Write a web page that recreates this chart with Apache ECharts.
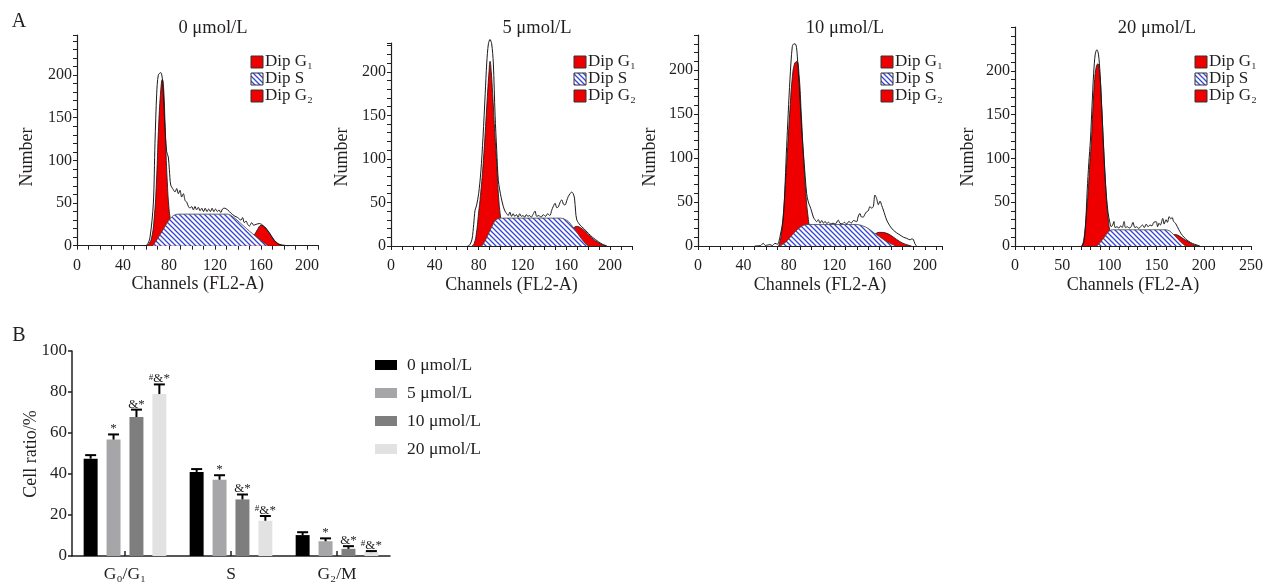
<!DOCTYPE html>
<html><head><meta charset="utf-8">
<script src="https://cdn.jsdelivr.net/npm/echarts@6/dist/echarts.min.js"></script>
<style>html,body{margin:0;padding:0;background:#fff}#c{width:1266px;height:583px}</style>
</head><body><div id="c"></div>
<script>
// ---------- Panel A data (channel, count) ----------
const panelTitles = ['0 μmol/L', '5 μmol/L', '10 μmol/L', '20 μmol/L'];
const legendNames = ['Dip G₁', 'Dip S', 'Dip G₂'];
const xTicksA = [0, 40, 80, 120, 160, 200];
const xTicksD = [0, 50, 100, 150, 200, 250];
const yTicksA = [0, 50, 100, 150, 200];

const p1Total = [[58,0],[61,1],[63.5,10],[66.4,50],[67.8,120],[69.3,178],[70.7,200],[72.8,203],[74.2,196],[75,178],[76.5,139],[78,110],[79.4,104],[80.3,89],[81.5,71],[83.2,67],[85.2,63],[86.7,67],[88.1,61],[89.6,65],[91,57],[92.5,61],[94,53],[95.4,51],[96.9,46],[98.3,44],[99.7,46],[101.2,42],[102.6,46],[104,42],[105.5,45],[107,41],[108.5,44],[110,40],[111.5,44],[113,40],[114.5,43],[116,40],[117.5,44],[119,40],[120.5,43],[122,40],[123.5,42],[125,39],[126.5,43],[128,44],[131,42],[134,38],[136.8,35],[139.7,33],[142.6,30],[144,33],[145.5,27],[147,29],[148.4,25],[149.9,23],[151.9,27],[153.6,24],[155.7,25],[158.6,26],[160.5,25],[163,22],[167.2,15.5],[171.6,6],[175,2],[180,0.5],[184,0]];
const p1G1 = [[61,0],[63,3],[65,10],[67,30],[69,72],[71,140],[73,185],[74.2,195],[75.3,185],[76.5,145],[77.5,105],[78.5,75],[79.5,52],[81,32],[83,15],[85,5],[88,0]];
const p1S = [[66,0],[70,8],[75,19],[80,30],[84,35.5],[88,37],[131,37],[135,34.5],[140,29],[145,23],[150,17],[155,11.5],[160,6],[164,2],[166,0]];
const p1G2 = [[145,0],[148,2],[151,6],[154,12],[157,19],[160,24],[162,23],[164,21],[167,15],[170,9],[173,4.5],[176,1.5],[179,0]];

const p2Total = [[70,0],[72,1.5],[74,8],[75.5,25],[76.7,41],[78,46],[80,60],[82,85],[84,125],[86,175],[87.4,210],[88.9,232],[90.4,237],[91.9,232],[93.4,210],[95,150],[96.5,110],[98,75],[100.5,56],[102.6,45],[104.1,40],[105.7,37],[107,35],[108.5,39],[110,34],[111.5,37],[113,34],[114.5,36],[116,33],[117.5,37],[119,34],[120.5,35],[122,33],[123.5,36],[125,34],[126.5,35],[128,33],[129.5,36],[131.5,40],[133,34],[135,35],[137,33],[139,36],[141,34],[143,37],[145,35],[146.7,41],[148,45],[149.8,49],[151.3,44],[152.8,45],[154.3,50],[155.9,53],[157.4,48],[158.9,47],[160.4,52],[161.9,57],[163.5,60],[165,62],[166.3,60],[167.5,55],[168.5,40],[169.6,30],[172.6,24],[176,20],[180.2,14.5],[184,10],[189.3,5],[193,2],[197,0]];
const p2G1 = [[74,0],[76,3],[78,15],[80,38],[82,62],[84,92],[86,130],[88,172],[89.5,200],[90.4,212],[91.5,200],[93,170],[94.5,135],[96.5,95],[98,60],[100,33],[102,16],[104,6],[106,1],[108,0]];
const p2S = [[83,0],[86,6],[89,14],[92,22],[95,29],[98,31.5],[101,32],[155,32],[158,31],[162,28],[166,22],[170,15],[174,8],[177,3.5],[180,0]];
const p2G2 = [[150,1],[155,4],[160,10],[164,17],[168,22],[170,22.5],[173,21],[177,17],[181,12],[185,7.5],[189,4],[193,1.5],[197,0]];

const p3Total = [[50,0],[55,0.5],[57.5,3],[59.5,0.5],[61,1],[63.4,1.5],[65.5,0.5],[67.8,3],[70,2],[72.2,10.6],[75.2,33],[78.1,113],[81,189],[83.1,227],[84.6,230],[86.3,229],[87.5,216],[89.5,175],[91.4,132],[93.5,95],[95.7,60],[97.2,50],[98.7,45],[100,40],[101.6,33],[103,30],[104.6,27.7],[106,30],[107.5,26],[109,29],[110.5,26],[112,28],[113.5,25.5],[115,27],[117,25],[119,26],[121,25],[123.6,29.5],[125,26],[127,25],[129,27],[131,25],[133,28],[135,26],[137,29],[139.8,27.7],[141,33],[142.7,37],[144,33],[145.7,33],[147,36],[148.6,39],[150,40],[151.5,44.8],[153,43],[154.5,45],[155.9,58],[157.4,54],[158.9,47],[160.4,51],[161.9,46],[163.3,41],[164.8,35],[166.2,29.6],[169,23],[172.1,18],[175,15],[178,12.5],[181,10],[183.9,8.7],[186.8,7],[188.3,8],[189.7,7.5],[191,3],[192.5,0]];
const p3G1 = [[71,0],[73,10],[75,33],[77,70],[79,112],[81,155],[83,190],[85,207],[87,210],[89,195],[91,150],[93,100],[95,60],[97,33],[99,16],[101,7],[104,1.5],[107,0]];
const p3S = [[72,0],[76,3],[80,8],[84,14],[88,19],[92,23],[96,24.5],[140,24.5],[145,23],[150,20],[155,15],[160,10.5],[165,6],[170,2.5],[174,0]];
const p3G2 = [[140,2],[145,5],[150,9],[155,13],[160,15.5],[165,15],[170,12],[175,7.5],[180,3.5],[185,1],[188,0]];

const p4Total = [[70,0],[71.4,0.5],[73,5],[74.8,25],[76.5,64],[78.2,95],[79.9,121],[81.6,160],[83.3,197],[85,219],[86.7,224],[88.4,219],[90.1,197],[91.8,160],[93.5,121],[95.2,85],[96.9,56],[98.6,38],[100.3,27.7],[102,22],[103.5,24],[104.8,28],[106,21],[108,22],[110,20.5],[112,23],[113.5,21],[115.6,28],[117,21],[119,22],[121,20.5],[123,22],[125,27],[127,21],[129,22],[131,20],[133,22],[135,24],[137,21],[139,25],[141,22],[143,24],[145,23],[147,27],[149.7,27.7],[151,22],[152.5,26],[154,24],[156.5,31.5],[158,25],[160,30],[161.5,27],[163.3,33.5],[165,31],[166.5,32.5],[168,28],[170,26],[173.5,18.7],[176,14],[179,10],[182,7],[186,4],[190,2],[193,1],[196,0]];
const p4G1 = [[71,0],[73,8],[75.5,35],[77.6,64],[79.3,95],[81,121],[82.7,160],[84.4,190],[86,204],[87.8,208],[89.5,200],[91.8,159],[93.5,120],[95.2,83],[97,52],[98.5,33],[100.3,18],[102.5,8],[105,2],[108,0]];
const p4S = [[87,0],[91,5],[95,10.5],[98,15],[101,18],[104,18.5],[160,18.5],[164,17],[168,13],[172,8.5],[176,4],[181,0]];
const p4G2 = [[150,1],[155,3],[160,6.5],[165,10.5],[169,13],[172,12.5],[176,10],[180,7],[184,4.5],[188,2],[192,0.5],[194,0]];

// ---------- Panel B data ----------
const categories = ['G₀/G₁', 'S', 'G₂/M'];
const groups = ['0 μmol/L', '5 μmol/L', '10 μmol/L', '20 μmol/L'];
const ratio0 = [47.5, 41.0, 10.2];
const ratio5 = [56.8, 37.2, 7.2];
const ratio10 = [67.8, 27.6, 3.5];
const ratio20 = [79.0, 17.2, 1.9];
const err0 = [1.7, 1.4, 1.4];
const err5 = [2.5, 2.2, 1.4];
const err10 = [3.6, 2.4, 1.3];
const err20 = [4.7, 2.3, 0.5];
const sig0 = ['', '', ''];
const sig5 = ['*', '*', '*'];
const sig10 = ['&*', '&*', '&*'];
const sig20 = ['#&*', '#&*', '#&*'];
const yTicksB = [0, 20, 40, 60, 80, 100];

// ---------- styling ----------
const FONT = '"Liberation Serif","DejaVu Serif",serif';
const INK = '#231f20';
const RED = '#ee0000';
const barColors = ['#000000', '#a6a6a9', '#7e7e7e', '#e2e2e2'];

function hatch() {
  const c = document.createElement('canvas');
  c.width = 5; c.height = 5;
  const g = c.getContext('2d');
  g.fillStyle = '#ffffff'; g.fillRect(0, 0, 5, 5);
  g.strokeStyle = '#3446d6'; g.lineWidth = 1.3;
  g.beginPath();
  for (const k of [-5, 0, 5]) { g.moveTo(k - 1, -1); g.lineTo(k + 6, 6); }
  g.stroke();
  return c;
}
const HATCH = { image: hatch(), repeat: 'repeat' };

const panels = [
  { total: p1Total, g1: p1G1, s: p1S, g2: p1G2, xMax: 210, yMax: 247, xt: xTicksA,
    grid: { left: 77, top: 35, width: 241.5, height: 210.7 }, titleX: 213, nameX: 27, legX: 251 },
  { total: p2Total, g1: p2G1, s: p2S, g2: p2G2, xMax: 220, yMax: 233, xt: xTicksA,
    grid: { left: 391, top: 43, width: 241, height: 203 }, titleX: 537, nameX: 342, legX: 574 },
  { total: p3Total, g1: p3G1, s: p3S, g2: p3G2, xMax: 215, yMax: 240, xt: xTicksA,
    grid: { left: 698, top: 35, width: 244, height: 211 }, titleX: 845, nameX: 650, legX: 881 },
  { total: p4Total, g1: p4G1, s: p4S, g2: p4G2, xMax: 250, yMax: 250, xt: xTicksD,
    grid: { left: 1015, top: 27, width: 245, height: 219 }, titleX: 1157, nameX: 968, legX: 1195 }
];

const grids = [], xAxes = [], yAxes = [], series = [], graphics = [];
const axisLine = { show: true, onZero: false, lineStyle: { color: INK, width: 1.2 } };
const tick = { show: true, length: 4, lineStyle: { color: INK, width: 1 } };

panels.forEach((p, i) => {
  grids.push(Object.assign({ containLabel: false }, p.grid));
  xAxes.push({
    type: 'value', gridIndex: i, min: 0, max: p.xMax, interval: 10,
    axisLine, axisTick: tick, splitLine: { show: false },
    axisLabel: { color: INK, fontFamily: FONT, fontSize: 16, margin: 12,
      showMaxLabel: true, formatter: v => p.xt.includes(v) ? String(v) : '' },
    name: 'Channels (FL2-A)', nameLocation: 'middle', nameGap: 30,
    nameTextStyle: { color: INK, fontFamily: FONT, fontSize: 18 }
  });
  yAxes.push({
    type: 'value', gridIndex: i, min: 0, max: p.yMax, interval: 10,
    axisLine, axisTick: tick, splitLine: { show: false },
    axisLabel: { color: INK, fontFamily: FONT, fontSize: 16, margin: 5,
      showMaxLabel: true, formatter: v => yTicksA.includes(v) ? String(v) : '' }
  });
  const common = { type: 'line', xAxisIndex: i, yAxisIndex: i, showSymbol: false, silent: true, animation: false };
  series.push(Object.assign({}, common, { name: 'Dip G₁', data: p.g1, smooth: 0.5, z: 2,
    lineStyle: { color: '#2a1a1a', width: 0.9 }, areaStyle: { color: RED, opacity: 1 } }));
  series.push(Object.assign({}, common, { name: 'Dip G₂', data: p.g2, smooth: 0.4, z: 3,
    lineStyle: { color: '#2a1a1a', width: 0.9 }, areaStyle: { color: RED, opacity: 1 } }));
  series.push(Object.assign({}, common, { name: 'Dip S', data: p.s, smooth: 0.3, z: 4,
    lineStyle: { color: '#444', width: 0.8 }, areaStyle: { color: HATCH, opacity: 1 } }));
  series.push(Object.assign({}, common, { name: 'Total', data: p.total, smooth: 0.3, z: 5, clip: false,
    lineStyle: { color: '#1a1a1a', width: 1 } }));

  graphics.push({ type: 'text', x: p.titleX, y: 28, style: { text: panelTitles[i], fill: INK,
    font: '18.5px ' + FONT, align: 'center', verticalAlign: 'middle' } });
  graphics.push({ type: 'text', x: p.nameX, y: 157, rotation: Math.PI / 2, style: { text: 'Number', fill: INK,
    font: '18px ' + FONT, align: 'center', verticalAlign: 'middle' } });
  const rows = [62, 79, 96];
  legendNames.forEach((nm, j) => {
    graphics.push({ type: 'rect', shape: { x: p.legX, y: rows[j] - 6, width: 12, height: 12 },
      style: { fill: j === 1 ? HATCH : RED, stroke: '#333', lineWidth: 1 } });
    graphics.push({ type: 'text', x: p.legX + 14, y: rows[j], style: { text: nm, fill: INK,
      font: '17px ' + FONT, align: 'left', verticalAlign: 'middle' } });
  });
});

// ---------- Panel B ----------
const bi = panels.length;
grids.push({ left: 72, top: 351, width: 318, height: 209, containLabel: false });
xAxes.push({ type: 'category', gridIndex: bi, data: categories,
  axisLine: { show: true, lineStyle: { color: INK, width: 1.5 } },
  axisTick: { show: true, alignWithLabel: true, inside: true, length: 5, lineStyle: { color: INK, width: 1.5 } },
  axisLabel: { color: INK, fontFamily: FONT, fontSize: 17.5, margin: 9 } });
yAxes.push({ type: 'value', gridIndex: bi, min: 0, max: 100, interval: 20,
  axisLine: { show: true, lineStyle: { color: INK, width: 1.5 } },
  axisTick: { show: true, length: 4, lineStyle: { color: INK, width: 1.5 } },
  splitLine: { show: false },
  axisLabel: { color: INK, fontFamily: FONT, fontSize: 17, margin: 5, formatter: v => yTicksB.includes(v) ? String(v) : '' } });
graphics.push({ type: 'text', x: 31.5, y: 454, rotation: Math.PI / 2, style: { text: 'Cell ratio/%', fill: INK,
  font: '18px ' + FONT, align: 'center', verticalAlign: 'middle' } });

const ratios = [ratio0, ratio5, ratio10, ratio20];
const errs = [err0, err5, err10, err20];
const sigs = [sig0, sig5, sig10, sig20];
const CAT_GAP = 0.22, BAR_GAP = 0.64;
ratios.forEach((r, k) => {
  series.push({ type: 'bar', name: groups[k], xAxisIndex: bi, yAxisIndex: bi, data: r,
    barCategoryGap: (CAT_GAP * 100) + '%', barGap: (BAR_GAP * 100) + '%',
    itemStyle: { color: barColors[k] }, animation: false, z: 2 });
});
const errData = [], errText = [];
ratios.forEach((r, k) => r.forEach((v, c) => { errData.push([c, v, errs[k][c], k]); errText.push(sigs[k][c]); }));
series.push({ type: 'custom', xAxisIndex: bi, yAxisIndex: bi, data: errData, z: 5, animation: false, silent: true,
  renderItem: (params, api) => {
    const c = api.value(0), v = api.value(1), e = api.value(2), k = api.value(3);
    const band = api.size([1, 0])[0];
    const n = ratios.length;
    const bw = band * (1 - CAT_GAP) / (n + (n - 1) * BAR_GAP);
    const total = n * bw + (n - 1) * BAR_GAP * bw;
    const x = api.coord([c, 0])[0] - total / 2 + bw / 2 + k * bw * (1 + BAR_GAP);
    const yB = api.coord([c, v])[1], yT = api.coord([c, v + e])[1];
    const txt = errText[params.dataIndex];
    const ch = [
      { type: 'line', shape: { x1: x, y1: yB, x2: x, y2: yT }, style: { stroke: '#000', lineWidth: 2 } },
      { type: 'line', shape: { x1: x - 5.5, y1: yT, x2: x + 5.5, y2: yT }, style: { stroke: '#000', lineWidth: 2 } }
    ];
    if (txt) {
      const rich = txt.startsWith('#') ? '{h|#}' + txt.slice(1) : txt;
      ch.push({ type: 'text', x: x, y: yT - 5.5, style: { text: rich, fill: INK, font: '13px ' + FONT,
        align: 'center', verticalAlign: 'middle', rich: { h: { fontSize: 9, fontFamily: FONT, fill: INK, padding: [0, 0, 3, 0] } } } });
    }
    return { type: 'group', children: ch };
  } });

graphics.push({ type: 'text', x: 19, y: 22, style: { text: 'A', fill: INK, font: '20px ' + FONT, align: 'center', verticalAlign: 'middle' } });
graphics.push({ type: 'text', x: 19, y: 336, style: { text: 'B', fill: INK, font: '20px ' + FONT, align: 'center', verticalAlign: 'middle' } });

const chart = echarts.init(document.getElementById('c'), null, { renderer: 'canvas' });
chart.setOption({
  animation: false,
  backgroundColor: '#ffffff',
  grid: grids, xAxis: xAxes, yAxis: yAxes, series,
  legend: { data: groups, orient: 'vertical', left: 375, top: 356, padding: 0, icon: 'rect', itemWidth: 22, itemHeight: 10,
    itemGap: 10, selectedMode: false,
    textStyle: { color: INK, fontFamily: FONT, fontSize: 17.5, lineHeight: 18, padding: [0, 0, 0, 5] } },
  graphic: graphics
});
</script></body></html>
